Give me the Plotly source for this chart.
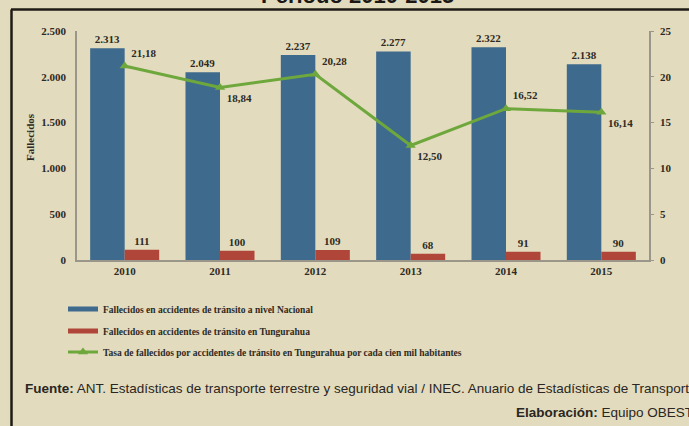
import plotly.graph_objects as go

years = ["2010", "2011", "2012", "2013", "2014", "2015"]
nacional = [2313, 2049, 2237, 2277, 2322, 2138]
tungurahua = [111, 100, 109, 68, 91, 90]
tasa = [21.18, 18.84, 20.28, 12.50, 16.52, 16.14]

name_nac = "Fallecidos en accidentes de tránsito a nivel Nacional"
name_tun = "Fallecidos en accidentes de tránsito en Tungurahua"
name_tasa = "Tasa de fallecidos por accidentes de tránsito en Tungurahua por cada cien mil habitantes"
title_text = "Período 2010-2015"
ytitle = "Fallecidos"
fuente = "<b>Fuente:</b> ANT. Estadísticas de transporte terrestre y seguridad vial / INEC. Anuario de Estadísticas de Transporte"
elab = "<b>Elaboración:</b> Equipo OBEST"

# style
BG = "#E2DBBD"
BLUE = "#3E6A8D"
RED = "#B0463A"
GREEN = "#6EA83C"
TXT = "#2e2a24"
AX = "#9a968a"
SERIF = "Liberation Serif"
SANS = "Liberation Sans"
label_pos = ["top right", "bottom right", "top right", "bottom right", "top right", "bottom right"]

W, H = 689, 426
ML, MR, MT, MB = 77, 40, 31, 166
pw, ph = W - ML - MR, H - MT - MB

def px(x):
    return (x - ML) / pw

def py(y):
    return (H - MB - y) / ph

bold11 = dict(family=SERIF, size=11, color=TXT, weight="bold")

fig = go.Figure()
fig.add_trace(go.Bar(
    x=years, y=nacional, name=name_nac, marker=dict(color=BLUE, line=dict(width=0)),
    texttemplate="%{y:,d}", textposition="outside", cliponaxis=False,
    textfont=bold11, showlegend=False))
fig.add_trace(go.Bar(
    x=years, y=tungurahua, name=name_tun, marker=dict(color=RED, line=dict(width=0)),
    texttemplate="%{y:,d}", textposition="outside", cliponaxis=False,
    textfont=bold11, showlegend=False))
fig.add_trace(go.Scatter(
    x=years, y=tasa, yaxis="y2", name=name_tasa, mode="lines+markers+text",
    line=dict(color=GREEN, width=3), marker=dict(symbol="triangle-up", size=9, color=GREEN),
    texttemplate="%{y:.2f}", textposition=label_pos, cliponaxis=False,
    textfont=bold11, legend="legend3"))
# legend entries for the bar series (bar-shaped strokes like the original)
fig.add_trace(go.Scatter(x=[None], y=[None], mode="lines", name=name_nac,
                         line=dict(color=BLUE, width=5), legend="legend"))
fig.add_trace(go.Scatter(x=[None], y=[None], mode="lines", name=name_tun,
                         line=dict(color=RED, width=5), legend="legend2"))

legfont = dict(family=SERIF, size=9.5, color=TXT, weight="bold")
def leg(y):
    return dict(x=px(63), y=py(y), xanchor="left", yanchor="middle", bgcolor="rgba(0,0,0,0)",
                font=legfont, borderwidth=0, itemwidth=30)

fig.update_layout(
    width=W, height=H, margin=dict(l=ML, r=MR, t=MT, b=MB),
    paper_bgcolor=BG, plot_bgcolor=BG,
    separators=",.",
    barmode="group", bargap=0.276, bargroupgap=0,
    showlegend=True,
    legend=leg(309), legend2=leg(331), legend3=leg(352),
    xaxis=dict(type="category", showline=True, linecolor=AX, linewidth=1.5, ticks="",
               tickfont=bold11, showgrid=False, zeroline=False),
    yaxis=dict(range=[0, 2500], dtick=500, tickformat=",d", showline=True, linecolor=AX, linewidth=1.5,
               showgrid=False, zeroline=False, ticks="", ticklabelstandoff=7, tickfont=bold11),
    yaxis2=dict(range=[0, 25], dtick=5, overlaying="y", side="right", showline=True, linecolor=AX,
                linewidth=1.5, showgrid=False, zeroline=False, ticks="outside", ticklen=3,
                tickcolor=AX, ticklabelstandoff=4, tickfont=bold11),
    font=dict(family=SERIF, color=TXT),
)

fig.add_annotation(text=title_text, xref="paper", yref="paper", x=px(357), y=py(10),
                   xanchor="center", yanchor="bottom", showarrow=False,
                   font=dict(family=SANS, size=22, color="#1a1714", weight="bold"))
fig.add_annotation(text="<b>" + ytitle + "</b>", xref="paper", yref="paper", x=px(22), y=py(137),
                   textangle=-90, showarrow=False, font=dict(family=SERIF, size=11, color=TXT))
fig.add_annotation(text=fuente, xref="paper", yref="paper", x=px(23), y=py(389),
                   xanchor="left", yanchor="middle", showarrow=False,
                   font=dict(family=SANS, size=13.5, color="#2a2622"))
fig.add_annotation(text=elab, xref="paper", yref="paper", x=px(695), y=py(412),
                   xanchor="right", yanchor="middle", showarrow=False,
                   font=dict(family=SANS, size=13.5, color="#2a2622"))

frame = dict(color="#1f1b16", width=2.5)
fig.add_shape(type="line", xref="paper", yref="paper", x0=px(11), x1=px(705), y0=py(9.5), y1=py(9.5), line=frame)
fig.add_shape(type="line", xref="paper", yref="paper", x0=px(11.5), x1=px(11.5), y0=py(9.5), y1=py(440), line=frame)

fig.write_html("out.html", config={"displayModeBar": False},
               post_script="document.body.style.margin='0';document.body.style.overflow='hidden';")
